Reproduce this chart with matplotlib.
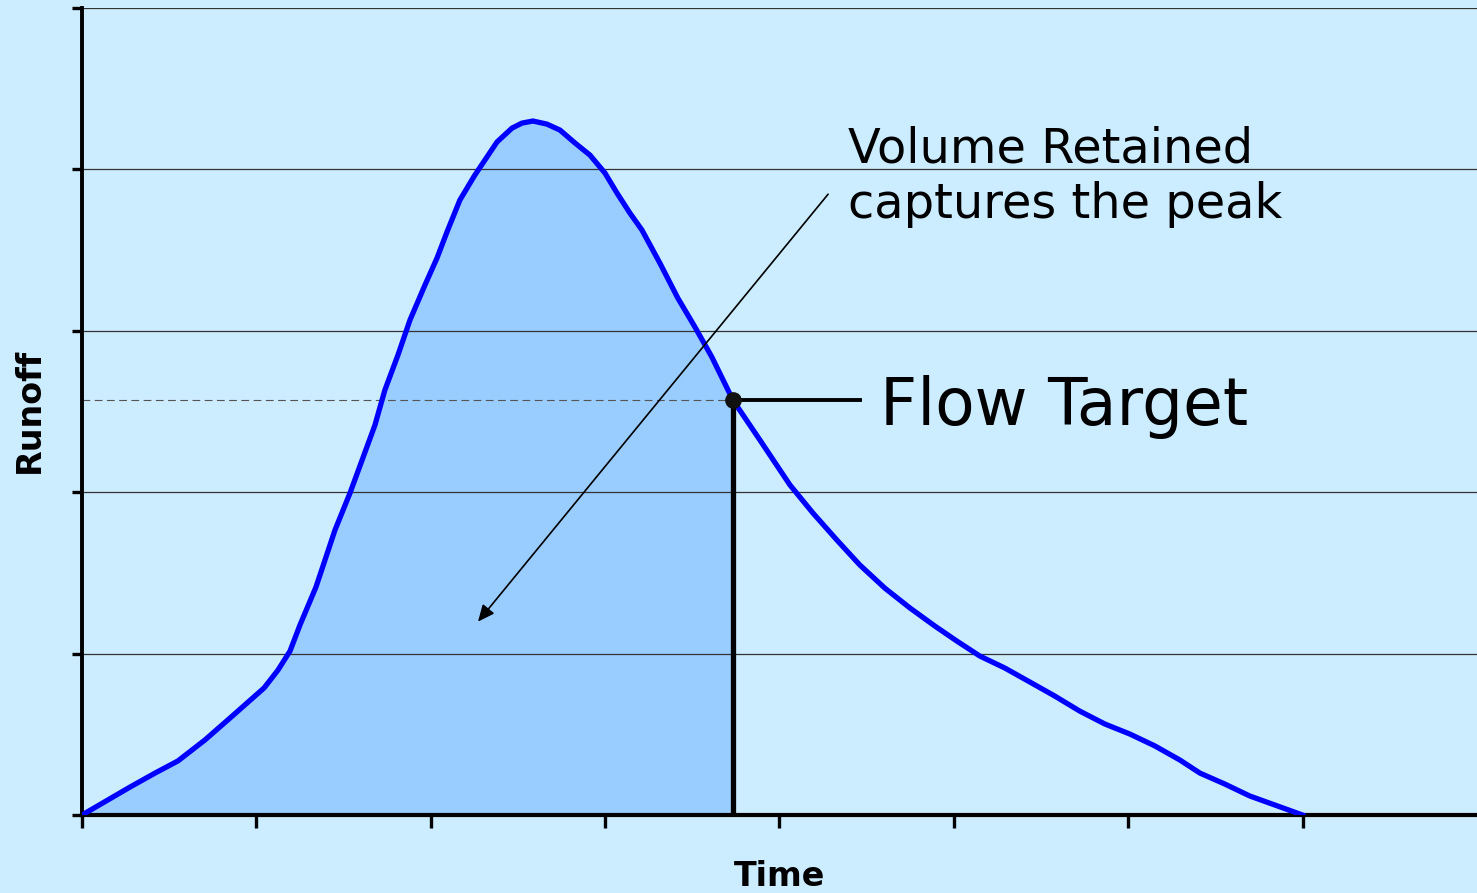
import numpy as np
import matplotlib
matplotlib.use("Agg")
import matplotlib.pyplot as plt

# hidrograma (tempo em divisões do eixo, vazão em divisões da grade)
tempo = [0.0, 0.275, 0.419, 0.550, 0.705, 0.849, 1.044, 1.124, 1.193, 1.250, 1.342,
         1.451, 1.537, 1.680, 1.737, 1.812, 1.881, 1.967, 2.036, 2.093, 2.167, 2.253,
         2.380, 2.466, 2.523, 2.586, 2.666, 2.741, 2.827, 2.913, 2.999, 3.068, 3.142,
         3.211, 3.314, 3.417, 3.515, 3.612, 3.733, 3.888, 4.060, 4.192, 4.329, 4.461,
         4.604, 4.748, 4.891, 5.017, 5.149, 5.292, 5.436, 5.579, 5.722, 5.866, 6.009,
         6.153, 6.296, 6.411, 6.554, 6.697, 6.841, 7.0]
vazao = [0.0, 0.173, 0.260, 0.335, 0.465, 0.601, 0.787, 0.898, 1.016, 1.177, 1.413,
         1.766, 1.995, 2.416, 2.633, 2.850, 3.067, 3.284, 3.451, 3.612, 3.810, 3.965,
         4.170, 4.256, 4.287, 4.300, 4.281, 4.244, 4.164, 4.089, 3.978, 3.854, 3.730,
         3.625, 3.420, 3.203, 3.024, 2.838, 2.571, 2.323, 2.045, 1.871, 1.704, 1.549,
         1.406, 1.283, 1.171, 1.078, 0.985, 0.911, 0.824, 0.737, 0.644, 0.564, 0.502,
         0.428, 0.341, 0.260, 0.192, 0.118, 0.062, 0.0]
alvo_t, alvo_q = 3.733, 2.571
xticks = list(range(0, 8))
yticks = list(range(0, 6))

FUNDO = "#CCECFF"
fig = plt.figure(figsize=(14.77, 8.93), dpi=100, facecolor=FUNDO)
ax = fig.add_axes([0.0555, 0.0873, 0.9445, 0.9037], facecolor=FUNDO)

t = np.array(tempo); q = np.array(vazao)
m = t <= alvo_t + 1e-9
ax.fill_between(t[m], q[m], 0, color="#99CCFF", lw=0, zorder=1)
for yv in yticks[1:]:
    ax.axhline(yv, color="#333333", lw=0.9, zorder=1.5)
ax.plot([0, alvo_t], [alvo_q, alvo_q], color="#555555", lw=0.8, ls=(0, (7, 4)), zorder=1.6)
ax.plot(t, q, color="#0000FF", lw=3.8, zorder=3, solid_joinstyle="round")
ax.plot([alvo_t, alvo_t], [0, alvo_q], color="black", lw=3.8, zorder=4)
ax.plot([alvo_t, 4.461], [alvo_q, alvo_q], color="black", lw=2.8, zorder=4)
ax.plot([alvo_t], [alvo_q], "o", color="#111111", ms=11, zorder=5)

ax.text(4.576, 2.416, "Flow Target", fontsize=46.5, va="baseline", ha="left")
ax.text(4.392, 4.04, "Volume Retained", fontsize=34.5, va="baseline", ha="left")
ax.text(4.392, 3.70, "captures the peak", fontsize=34.5, va="baseline", ha="left")
ax.annotate("", xy=(2.261, 1.185), xytext=(4.289, 3.860),
            arrowprops=dict(arrowstyle="-|>,head_length=1.0,head_width=0.45", color="black", lw=1.2))

ax.set_xlim(0, 8); ax.set_ylim(0, 5)
ax.set_xticks(xticks); ax.set_yticks(yticks)
ax.set_xticklabels([]); ax.set_yticklabels([])
ax.tick_params(axis="x", direction="out", length=9, width=2.4, color="black")
ax.tick_params(axis="y", direction="out", length=7, width=2.4, color="black")
for s in ("top", "right"):
    ax.spines[s].set_visible(False)
ax.spines["left"].set_linewidth(2.8); ax.spines["bottom"].set_linewidth(3)

fig.text(780 / 1477, 7 / 893, "Time", fontsize=24, fontweight="bold", ha="center", va="baseline")
fig.text(29 / 1477, 1 - 410 / 893, "Runoff", fontsize=24, fontweight="bold",
         rotation=90, ha="center", va="center")

fig.savefig("out.png", dpi=100, facecolor=FUNDO)
